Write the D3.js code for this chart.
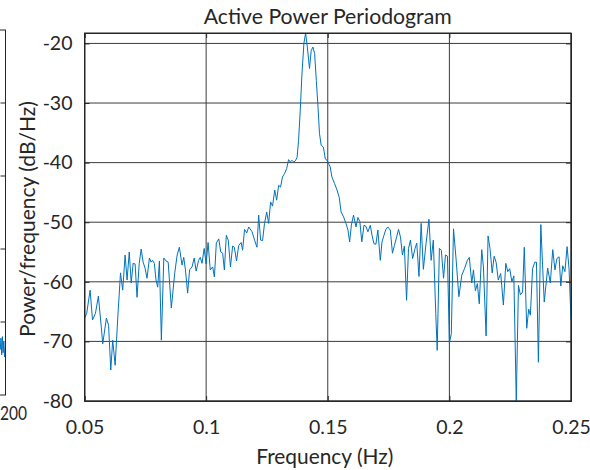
<!DOCTYPE html>
<html>
<head>
<meta charset="utf-8">
<script src="https://cdn.jsdelivr.net/npm/d3@7/dist/d3.min.js"></script>
<style>
  html, body { margin: 0; padding: 0; background: #fff; }
  svg { display: block; }
  text { font-family: Lato, "Noto Sans", sans-serif; fill: #262626; }
</style>
</head>
<body>
<svg id="chart" width="590" height="470"></svg>
<script>
// Welch periodogram of active power: frequency (Hz) and PSD (dB/Hz)
const freqHz = [
  0.0500,0.0509,0.0523,0.0533,0.0545,0.0557,0.0569,0.0575,0.0590,0.0599,
  0.0608,0.0616,0.0626,0.0637,0.0648,0.0657,0.0667,0.0675,0.0684,0.0692,
  0.0700,0.0708,0.0716,0.0725,0.0733,0.0741,0.0749,0.0757,0.0767,0.0774,
  0.0780,0.0787,0.0794,0.0801,0.0808,0.0816,0.0826,0.0835,0.0844,0.0857,
  0.0871,0.0881,0.0890,0.0901,0.0908,0.0915,0.0924,0.0932,0.0942,0.0951,
  0.0959,0.0969,0.0976,0.0983,0.0992,0.1000,0.1008,0.1017,0.1027,0.1034,
  0.1042,0.1052,0.1060,0.1068,0.1075,0.1083,0.1091,0.1100,0.1109,0.1116,
  0.1125,0.1134,0.1144,0.1150,0.1158,0.1167,0.1175,0.1189,0.1199,0.1209,
  0.1216,0.1224,0.1232,0.1240,0.1249,0.1257,0.1265,0.1273,0.1282,0.1290,
  0.1298,0.1306,0.1314,0.1323,0.1331,0.1339,0.1346,0.1353,0.1360,0.1367,
  0.1374,0.1380,0.1387,0.1394,0.1402,0.1409,0.1416,0.1425,0.1432,0.1439,
  0.1446,0.1453,0.1460,0.1466,0.1473,0.1482,0.1490,0.1497,0.1503,0.1510,
  0.1517,0.1528,0.1538,0.1547,0.1555,0.1565,0.1575,0.1583,0.1590,0.1597,
  0.1606,0.1616,0.1624,0.1632,0.1640,0.1649,0.1657,0.1665,0.1675,0.1682,
  0.1690,0.1698,0.1706,0.1716,0.1723,0.1731,0.1739,0.1747,0.1757,0.1766,
  0.1774,0.1783,0.1791,0.1799,0.1807,0.1815,0.1824,0.1832,0.1840,0.1849,
  0.1859,0.1866,0.1875,0.1884,0.1893,0.1904,0.1916,0.1925,0.1934,0.1944,
  0.1950,0.1959,0.1967,0.1976,0.1984,0.1992,0.2000,0.2008,0.2017,0.2028,
  0.2039,0.2051,0.2062,0.2074,0.2082,0.2092,0.2099,0.2107,0.2115,0.2123,
  0.2133,0.2140,0.2151,0.2159,0.2167,0.2176,0.2184,0.2192,0.2201,0.2211,
  0.2222,0.2232,0.2240,0.2248,0.2257,0.2265,0.2275,0.2284,0.2292,0.2301,
  0.2308,0.2318,0.2326,0.2333,0.2342,0.2351,0.2358,0.2366,0.2376,0.2384,
  0.2390,0.2404,0.2415,0.2425,0.2434,0.2442,0.2451,0.2458,0.2466,0.2475,
  0.2484,0.2492,0.2500
];
const powerDb = [
  -66.1,-65.3,-61.4,-66.4,-65.3,-62.4,-67.6,-70.4,-66.1,-67.3,
  -74.8,-69.8,-74.0,-65.9,-58.5,-61.4,-55.5,-59.7,-55.0,-60.2,
  -56.9,-57.0,-62.6,-56.9,-54.5,-56.7,-57.7,-59.4,-56.0,-56.7,
  -56.4,-56.9,-59.7,-60.9,-56.5,-69.8,-56.0,-56.5,-56.7,-64.4,
  -58.5,-55.5,-54.2,-57.2,-55.9,-58.0,-61.9,-58.0,-57.5,-56.0,
  -58.2,-56.4,-55.9,-56.9,-54.4,-57.0,-53.4,-58.0,-57.5,-59.2,
  -53.5,-52.8,-55.0,-55.2,-58.0,-52.2,-53.0,-57.5,-54.0,-54.2,
  -56.5,-53.9,-53.4,-54.7,-51.2,-51.8,-50.8,-51.6,-53.0,-54.2,
  -48.8,-53.0,-53.1,-50.2,-48.3,-50.2,-46.6,-47.3,-44.6,-46.3,
  -43.8,-44.1,-42.4,-41.8,-41.0,-39.5,-39.9,-39.6,-39.9,-39.7,
  -39.1,-36.3,-31.2,-25.1,-20.0,-18.25,-20.6,-24.2,-21.2,-20.6,
  -21.7,-26.2,-30.7,-35.1,-37.1,-37.4,-39.4,-39.6,-40.1,-40.7,
  -42.4,-43.5,-44.6,-45.8,-48.3,-49.1,-50.2,-51.3,-53.3,-50.5,
  -48.8,-50.8,-49.2,-49.9,-53.3,-50.5,-50.7,-51.6,-50.5,-52.2,
  -53.6,-53.7,-51.3,-56.4,-53.3,-52.2,-51.2,-50.8,-51.3,-55.2,
  -53.9,-52.5,-51.2,-52.5,-55.5,-54.0,-63.1,-54.4,-53.0,-56.1,
  -54.4,-53.5,-59.1,-50.2,-57.9,-53.6,-49.5,-56.4,-53.0,-65.3,
  -71.5,-54.4,-54.7,-59.4,-55.5,-55.7,-70.3,-68.7,-51.1,-56.4,
  -62.5,-58.9,-57.8,-56.4,-55.9,-60.2,-58.0,-61.5,-60.3,-63.7,
  -54.6,-57.5,-69.1,-52.3,-54.4,-58.5,-55.7,-56.7,-59.7,-58.6,
  -63.9,-56.9,-58.3,-57.8,-60.0,-59.0,-80.0,-60.6,-62.2,-61.7,
  -54.2,-67.8,-64.6,-65.6,-57.8,-56.7,-56.7,-73.5,-50.4,-58.0,
  -63.4,-57.7,-60.2,-54.6,-58.0,-56.1,-55.8,-60.7,-57.3,-58.3,
  -54.1,-57.8,-66.4
];

// Tail end of the neighbouring time-series panel (sample index, value)
const neighbourT = [197.8, 198.1, 198.4, 198.7, 199.0, 199.3, 199.6, 200.0];
const neighbourV = [0.62, 0.78, 0.55, 0.80, 0.58, 0.74, 0.52, 0.66];

const xTicks = [0.05, 0.10, 0.15, 0.20, 0.25];
const xTickLabels = ["0.05", "0.1", "0.15", "0.2", "0.25"];
const yTicks = [-80, -70, -60, -50, -40, -30, -20];
const yTickLabels = ["-80", "-70", "-60", "-50", "-40", "-30", "-20"];

const titleText = "Active Power Periodogram";
const xLabelText = "Frequency (Hz)";
const yLabelText = "Power/frequency (dB/Hz)";

const svg = d3.select("#chart");
const m = { left: 84.5, right: 571, top: 33, bottom: 401 };
const axisColor = "#262626";
const gridColor = "#3c3c3c";
const lineColor = "#0072BD";
const tickFont = "19.5px";

const x = d3.scaleLinear().domain([0.05, 0.25]).range([m.left, m.right]);
const y = d3.scaleLinear().domain([-80, -18.25]).range([m.bottom, m.top]);

// clip regions
const defs = svg.append("defs");
defs.append("clipPath").attr("id", "plotClip")
  .append("rect").attr("x", m.left).attr("y", m.top)
  .attr("width", m.right - m.left).attr("height", m.bottom - m.top);
defs.append("clipPath").attr("id", "leftClip")
  .append("rect").attr("x", 0).attr("y", 30).attr("width", 5.5).attr("height", 365);

// ---- neighbouring panel (only its right edge is in view) ----
const lx = d3.scaleLinear().domain([0, 200]).range([-470, 5.5]);
const ly = d3.scaleLinear().domain([0, 5]).range([395, 30]);
const left = svg.append("g");
left.append("path")
  .attr("clip-path", "url(#leftClip)")
  .attr("fill", "none").attr("stroke", lineColor).attr("stroke-width", 1)
  .attr("d", d3.line().x((d, i) => lx(neighbourT[i])).y(d => ly(d))(neighbourV));
left.append("rect")
  .attr("x", -10).attr("y", 30).attr("width", 15.5).attr("height", 365)
  .attr("fill", "none").attr("stroke", axisColor).attr("stroke-width", 1);
left.selectAll("line.lt").data(d3.range(1, 5)).join("line")
  .attr("x1", 5.5).attr("x2", 0.5)
  .attr("y1", d => ly(d)).attr("y2", d => ly(d))
  .attr("stroke", axisColor).attr("stroke-width", 1);
left.append("text")
  .attr("x", 0).attr("y", 420)
  .attr("text-anchor", "start").style("font-size", tickFont)
  .attr("textLength", 27).attr("lengthAdjust", "spacingAndGlyphs")
  .text("200");

// ---- main panel ----
const g = svg.append("g");

// grid
g.selectAll("line.gx").data(xTicks).join("line")
  .attr("x1", d => x(d)).attr("x2", d => x(d))
  .attr("y1", m.top).attr("y2", m.bottom)
  .attr("stroke", gridColor).attr("stroke-width", 1);
g.selectAll("line.gy").data(yTicks).join("line")
  .attr("x1", m.left).attr("x2", m.right)
  .attr("y1", d => y(d)).attr("y2", d => y(d))
  .attr("stroke", gridColor).attr("stroke-width", 1);

// spectrum
g.append("path")
  .attr("clip-path", "url(#plotClip)")
  .attr("fill", "none").attr("stroke", lineColor).attr("stroke-width", 1)
  .attr("stroke-linejoin", "round")
  .attr("d", d3.line().x((d, i) => x(freqHz[i])).y(d => y(d))(powerDb));

// axes (ticks pointing inward)
const tl = 5;
const xAxisB = d3.axisBottom(x).tickValues(xTicks).tickSize(-tl).tickPadding(19)
  .tickFormat((d, i) => xTickLabels[i]);
const xAxisT = d3.axisTop(x).tickValues(xTicks).tickSize(-tl).tickFormat("");
const yAxisL = d3.axisLeft(y).tickValues(yTicks).tickSize(-tl).tickPadding(12)
  .tickFormat((d, i) => yTickLabels[i]);
const yAxisR = d3.axisRight(y).tickValues(yTicks).tickSize(-tl).tickFormat("");

function styleAxis(sel) {
  sel.select(".domain").attr("stroke", axisColor);
  sel.selectAll(".tick line").attr("stroke", axisColor);
  sel.selectAll(".tick text")
    .style("font-family", 'Lato, "Noto Sans", sans-serif')
    .style("font-size", tickFont).attr("fill", axisColor);
}
g.append("g").attr("transform", `translate(0,${m.bottom})`).call(xAxisB).call(styleAxis);
g.append("g").attr("transform", `translate(0,${m.top})`).call(xAxisT).call(styleAxis);
g.append("g").attr("transform", `translate(${m.left},0)`).call(yAxisL).call(styleAxis);
g.append("g").attr("transform", `translate(${m.right},0)`).call(yAxisR).call(styleAxis);

// outer box
g.append("rect")
  .attr("x", m.left).attr("y", m.top)
  .attr("width", m.right - m.left).attr("height", m.bottom - m.top)
  .attr("fill", "none").attr("stroke", axisColor).attr("stroke-width", 1);

// labels, sized so each spans its intended width
function fitText(sel, width) {
  const base = 20;
  sel.style("font-size", base + "px");
  const w = sel.node().getComputedTextLength();
  sel.style("font-size", (base * width / w).toFixed(2) + "px");
  return sel;
}
const cx = (m.left + m.right) / 2;
fitText(svg.append("text").attr("x", cx).attr("y", 24)
  .attr("text-anchor", "middle").text(titleText), 248);
fitText(svg.append("text").attr("x", cx - 3).attr("y", 464)
  .attr("text-anchor", "middle").text(xLabelText), 137);
fitText(svg.append("text")
  .attr("transform", `translate(35,${(m.top + m.bottom) / 2 + 2}) rotate(-90)`)
  .attr("text-anchor", "middle").text(yLabelText), 236);
</script>
</body>
</html>
